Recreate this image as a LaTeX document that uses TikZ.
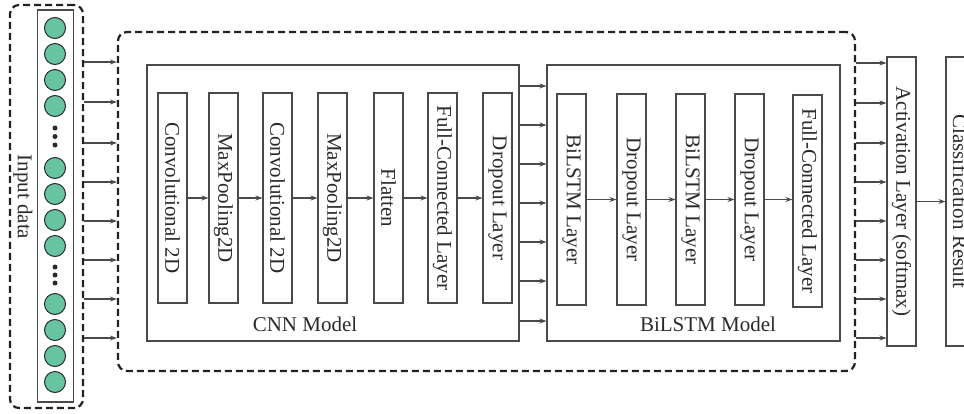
\documentclass[tikz,border=0pt]{standalone}
\usepackage{fontspec}
\setmainfont{Liberation Serif}
\usetikzlibrary{arrows.meta}
\definecolor{txt}{HTML}{2A2A2A}
\definecolor{ln}{HTML}{4A4A4A}
\definecolor{dash}{HTML}{222222}
\definecolor{cell}{RGB}{102,196,160}
\begin{document}
\begin{tikzpicture}[x=1pt,y=-1pt,
  every node/.style={text=txt, font=\fontsize{21}{24}\selectfont},
  layer/.style={draw=ln, line width=1.1pt, rotate=-90, minimum height=29pt, inner sep=0pt},
  model/.style={draw=ln, line width=1.1pt, inner sep=0pt},
  dbox/.style={draw=dash, line width=2.2pt, dash pattern=on 7pt off 4pt, rounded corners=9pt, inner sep=0pt},
  conn/.style={draw=ln, line width=1.1pt, -{Stealth[length=7pt,width=5pt]}},
  cellc/.style={circle, draw=txt, line width=1pt, fill=cell, minimum size=21pt, inner sep=0pt},
  dotc/.style={circle, fill=txt, minimum size=5pt, inner sep=0pt}]
\useasboundingbox (0,0) rectangle (964,413);
\clip (0,0) rectangle (964,413);

% input block
\node[dbox, minimum width=73pt, minimum height=403pt] (inp) at (46.5,206.5) {};
\node[model, minimum width=36pt, minimum height=392pt] (col) at (55.5,206) {};
\foreach \y [count=\i] in {28,54,80,106,168,194,220,246,304,330,356,382}
  \node[cellc] (c\i) at (55,\y) {};
\foreach \y [count=\i] in {128,136.5,145,267,275,283}
  \node[dotc] (d\i) at (55,\y) {};
\node[rotate=-90] (inlab) at (23,197) {Input data};

% big dashed block
\node[dbox, minimum width=737pt, minimum height=339pt] (big) at (486.5,201.5) {};

% CNN model
\node[model, minimum width=372pt, minimum height=276pt] (cnn) at (333,203) {};
\node (cnnlab) at (305,324) {CNN Model};
\node[layer, minimum width=210pt] (l1) at (172.5,198) {Convolutional 2D};
\node[layer, minimum width=210pt] (l2) at (223.5,198) {MaxPooling2D};
\node[layer, minimum width=210pt] (l3) at (277.5,198) {Convolutional 2D};
\node[layer, minimum width=210pt] (l4) at (332.5,198) {MaxPooling2D};
\node[layer, minimum width=210pt] (l5) at (388.5,198) {Flatten};
\node[layer, minimum width=210pt] (l6) at (442.5,198) {Full-Connected Layer};
\node[layer, minimum width=210pt] (l7) at (497.5,198) {Dropout Layer};
\foreach \a/\b in {l1/l2,l2/l3,l3/l4,l4/l5,l5/l6,l6/l7}
  \draw[conn] (\a.north) -- (\b.south);

% BiLSTM model
\node[model, minimum width=293pt, minimum height=276pt] (bil) at (693.5,203) {};
\node (billab) at (708,324) {BiLSTM Model};
\node[layer, minimum width=211pt] (m1) at (571.5,199.5) {BiLSTM Layer};
\node[layer, minimum width=211pt] (m2) at (631.5,199.5) {Dropout Layer};
\node[layer, minimum width=211pt] (m3) at (690.5,199.5) {BiLSTM Layer};
\node[layer, minimum width=211pt] (m4) at (749.5,199.5) {Dropout Layer};
\node[layer, minimum width=212pt] (m5) at (807.5,201) {Full-Connected Layer};
\foreach \a/\b in {m1/m2,m2/m3,m3/m4}
  \draw[conn] (\a.north) -- (\b.south);
\draw[conn] (m4.north) -- (m5.south |- m4.north);

% output blocks
\node[layer, minimum width=289pt] (act) at (901.5,201.5) {Activation Layer (softmax)};
\node[layer, minimum width=289pt] (cls) at (960.5,201.5) {Classification Result};
\draw[conn] (act.north) -- (cls.south);

% connectors between blocks
\foreach \y in {62,102,143,182,221,260,299,338}
  \draw[conn] (inp.east |- 0,\y) -- (big.west |- 0,\y);
\foreach \y in {86,125,164,203,242,281,321}
  \draw[conn] (cnn.east |- 0,\y) -- (bil.west |- 0,\y);
\foreach \y in {63,103,143,182,221,260,299,338}
  \draw[conn] (big.east |- 0,\y) -- (act.south |- 0,\y);
\end{tikzpicture}
\end{document}
